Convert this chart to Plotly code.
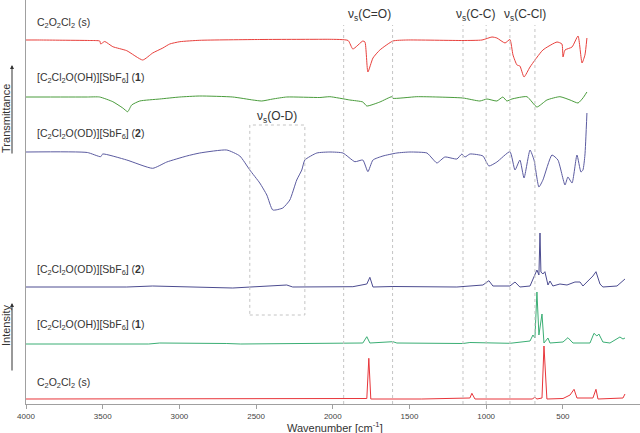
import plotly.graph_objects as go

# ---------------- data (wavenumber in cm-1, signal relative to each trace's baseline) -------------
ir_red_wn = [4000, 3911, 3780, 3584, 3519, 3513, 3487, 3434, 3343, 3239, 3174, 3108, 3063, 2997, 2867,
             2476, 2084, 2019, 1900, 1869, 1804, 1790, 1771, 1738, 1693, 1608, 1517, 1151, 1027, 962,
             930, 877, 845, 825, 799, 780, 753, 714, 630, 538, 506, 499, 486, 440, 401, 375, 356, 343]
ir_red_val = [0, 0, -0.2, -0.5, -1, -4, -1.5, -6.7, -10.7, -20, -13, -8, -4, -1.7, -0.3,
              0.5, 0.7, 0.7, -0.5, -9, -1, -2, -32, -18, -10, -1, 0, -0.5, 0, 3,
              2, -3, 0.5, -15, -25, -26, -37, -27, -10, -2, -4, -17, -10, -7, 4, -23, -15, 2]

ir_green_wn = [4000, 3600, 3520, 3434, 3369, 3337, 3311, 3258, 3128, 2997, 2867, 2652, 2521, 2463, 2391,
               2300, 2084, 2019, 1889, 1804, 1778, 1693, 1615, 1608, 1452, 1321, 1151, 1041, 995, 930,
               891, 865, 832, 734, 669, 604, 519, 453, 401, 369, 343]
ir_green_val = [0, 0, 0, -4.7, -11, -14.7, -8, -4, -2, 0, 1, 0, -3, -4, -2,
                0, -0.5, 0.3, -3, -5, -9, -5, 0.3, -1.3, 0.3, 0, -1, -4, -2, -4,
                0, -4, -2, 0.3, -10, -3, 0.3, -3, -6, -1, 5]

ir_blue_wn = [4000, 3600, 3513, 3500, 3343, 3174, 3082, 2952, 2867, 2691, 2606, 2541, 2476, 2430, 2391,
              2326, 2280, 2235, 2202, 2182, 2104, 2019, 1934, 1856, 1804, 1771, 1738, 1673, 1582, 1497,
              1386, 1354, 1321, 1269, 1191, 1158, 1138, 1106, 1021, 982, 930, 845, 812, 780, 753,
              714, 688, 656, 630, 571, 532, 486, 467, 440, 408, 382, 369, 356, 343]
ir_blue_val = [0, -0.5, -4.7, -2, -8, -16.3, -10, -4, -1, 2, -4, -18, -31, -43, -58,
               -56, -48, -28, -18, -8, -1, 0, -1, -9.7, -8, -19.7, -8, -4, -1, 0,
               -1, -6, -11, -5, -7, -2, -5, -2, -4, -14, -10, 0.3, -18, -8, -26,
               2, -8, -35, -28, -3, -8, -33, -25, -31, -3, -20, -18, -3, 39]

ra_blue_wn = [4000, 3343, 3174, 2652, 2300, 2261, 1869, 1778, 1758, 1738, 1608, 1191, 1021, 982, 956,
              845, 812, 780, 714, 688, 669, 656, 649, 643, 630, 617, 597, 584, 565, 519,
              473, 421, 388, 369, 304, 284, 258, 239, 147, 95]
ra_blue_val = [0, 0, 1, -1, 2, 0, 0.3, 3, 9.7, 0, 0.5, 0, 2, 6.3, 1,
               1, 5, 0, 1, 10, 17, 12, 54, 15, 13, 15.3, 2, 6, 1, 3,
               2, 5, 5, 1, 11, 15.3, 3, 0, 1, 8]

ra_green_wn = [4000, 3200, 3128, 2800, 2691, 2600, 1804, 1778, 1758, 1608, 1582, 1151, 1106, 845, 714,
               695, 682, 669, 656, 636, 623, 597, 584, 499, 467, 434, 323, 297, 278, 265,
               239, 193, 128, 108, 95]
ra_green_val = [0, 0, 1, 1, 0.5, 0, 1, 7.3, 1, 2.3, 1, 0.5, 1.5, 0.7, 3,
                9, 6, 52, 9, 30, 1, 6, 1, 2, 6.3, 1, 1, 10.7, 8, 10,
                2, 1, 7, 5, 6]

ra_red_wn = [4000, 1800, 1778, 1765, 1752, 1420, 1106, 1093, 1073, 700, 682, 669, 636, 623, 604,
             499, 453, 427, 408, 304, 284, 271, 108, 95]
ra_red_val = [0, 0, 0.5, 40.7, 0, 0, 1, 5.7, 0, 0, 1.7, 0, 1, 53, 0,
              0.5, 4, 9.7, 1, 1, 9.7, 0, 1, 5]

x_ticks = [4000, 3500, 3000, 2500, 2000, 1500, 1000, 500]

band_pairs = [(1929, 1610), (1151, 1000), (845, 682)]
band_labels = ["ν<sub>s</sub>(C=O)", "ν<sub>s</sub>(C-C)", "ν<sub>s</sub>(C-Cl)"]
band_label_x = [1758, 1067, 747]
od_box = (2541, 2182)

lbl_s = "C<sub>2</sub>O<sub>2</sub>Cl<sub>2</sub> (s)"
lbl_1 = "[C<sub>2</sub>Cl<sub>2</sub>O(OH)][SbF<sub>6</sub>] (<b>1</b>)"
lbl_2 = "[C<sub>2</sub>Cl<sub>2</sub>O(OD)][SbF<sub>6</sub>] (<b>2</b>)"

# ---------------- traces ----------------
traces = [
    (ir_red_wn, ir_red_val, 364, "#e8403c", lbl_s, True),
    (ir_green_wn, ir_green_val, 307, "#4a9c3c", lbl_1, True),
    (ir_blue_wn, ir_blue_val, 252, "#5b5ba0", lbl_2, True),
    (ra_blue_wn, ra_blue_val, 117, "#4c4c90", lbl_2, False),
    (ra_green_wn, ra_green_val, 60, "#3aae74", lbl_1, False),
    (ra_red_wn, ra_red_val, 5, "#e8353a", lbl_s, False),
]
label_y = [381, 326, 270, 134, 79, 21]

FONT = "Liberation Sans, Arial"
fig = go.Figure()
annotations = []
for (wn, val, off, col, lbl, smooth), ly in zip(traces, label_y):
    line = dict(color=col, width=1)
    if smooth:
        line.update(shape="spline", smoothing=0.5)
    fig.add_trace(go.Scatter(x=wn, y=[off + v for v in val], mode="lines",
                             line=line, hoverinfo="skip", showlegend=False))
    annotations.append(dict(x=3943, y=ly, xref="x", yref="y", text=lbl, showarrow=False,
                            xanchor="left", yanchor="middle",
                            font=dict(size=10.5, color="#333", family=FONT)))

shapes = []
for a, b in band_pairs:
    for xv in (a, b):
        shapes.append(dict(type="line", x0=xv, x1=xv, y0=0, y1=379, xref="x", yref="y",
                           line=dict(color="#c4c4c4", width=1, dash="dot")))
shapes.append(dict(type="rect", x0=od_box[0], x1=od_box[1], y0=89, y1=279, xref="x", yref="y",
                   line=dict(color="#c4c4c4", width=1, dash="dot")))

for t, xv in zip(band_labels, band_label_x):
    annotations.append(dict(x=xv, y=389, xref="x", yref="y", text=t, showarrow=False,
                            xanchor="center", yanchor="middle",
                            font=dict(size=12, color="#333", family=FONT)))
annotations.append(dict(x=2365, y=287, xref="x", yref="y", text="ν<sub>s</sub>(O-D)", showarrow=False,
                        xanchor="center", yanchor="middle",
                        font=dict(size=12, color="#333", family=FONT)))

# axis labels with arrows
annotations.append(dict(x=-0.0326, y=0.708, xref="paper", yref="paper", text="Transmittance",
                        textangle=-90, showarrow=False, xanchor="center", yanchor="middle",
                        font=dict(size=11, color="#333", family=FONT)))
annotations.append(dict(x=-0.0228, y=0.839, xref="paper", yref="paper", text="", showarrow=True,
                        ax=0, ay=90, arrowhead=2, arrowsize=0.8, arrowwidth=1, arrowcolor="#333"))
annotations.append(dict(x=-0.0326, y=0.1955, xref="paper", yref="paper", text="Intensity",
                        textangle=-90, showarrow=False, xanchor="center", yanchor="middle",
                        font=dict(size=11, color="#333", family=FONT)))
annotations.append(dict(x=-0.0228, y=0.25, xref="paper", yref="paper", text="", showarrow=True,
                        ax=0, ay=69, arrowhead=2, arrowsize=0.8, arrowwidth=1, arrowcolor="#333"))
annotations.append(dict(x=0.503, y=-0.056, xref="paper", yref="paper", text="Wavenumber [cm<sup>-1</sup>]",
                        showarrow=False, xanchor="center", yanchor="middle",
                        font=dict(size=11, color="#333", family=FONT)))

fig.update_layout(
    width=640, height=433,
    margin=dict(l=26, r=0, t=0, b=29),
    paper_bgcolor="white", plot_bgcolor="white",
    shapes=shapes, annotations=annotations,
    xaxis=dict(range=[4000, -3], showgrid=False, zeroline=False, showline=True, automargin=False,
               linecolor="#a0a0a0", linewidth=1, ticks="outside", ticklen=4, tickcolor="#a0a0a0",
               tickvals=x_ticks, ticktext=[str(v) for v in x_ticks],
               tickfont=dict(size=8, color="#444", family=FONT)),
    yaxis=dict(range=[0, 404], showgrid=False, zeroline=False, showline=True, automargin=False,
               linecolor="#a0a0a0", linewidth=1, showticklabels=False, ticks=""),
)

fig.write_html("out.html", config={"displayModeBar": False},
               post_script="document.body.style.margin='0px';document.body.style.overflow='hidden';")
